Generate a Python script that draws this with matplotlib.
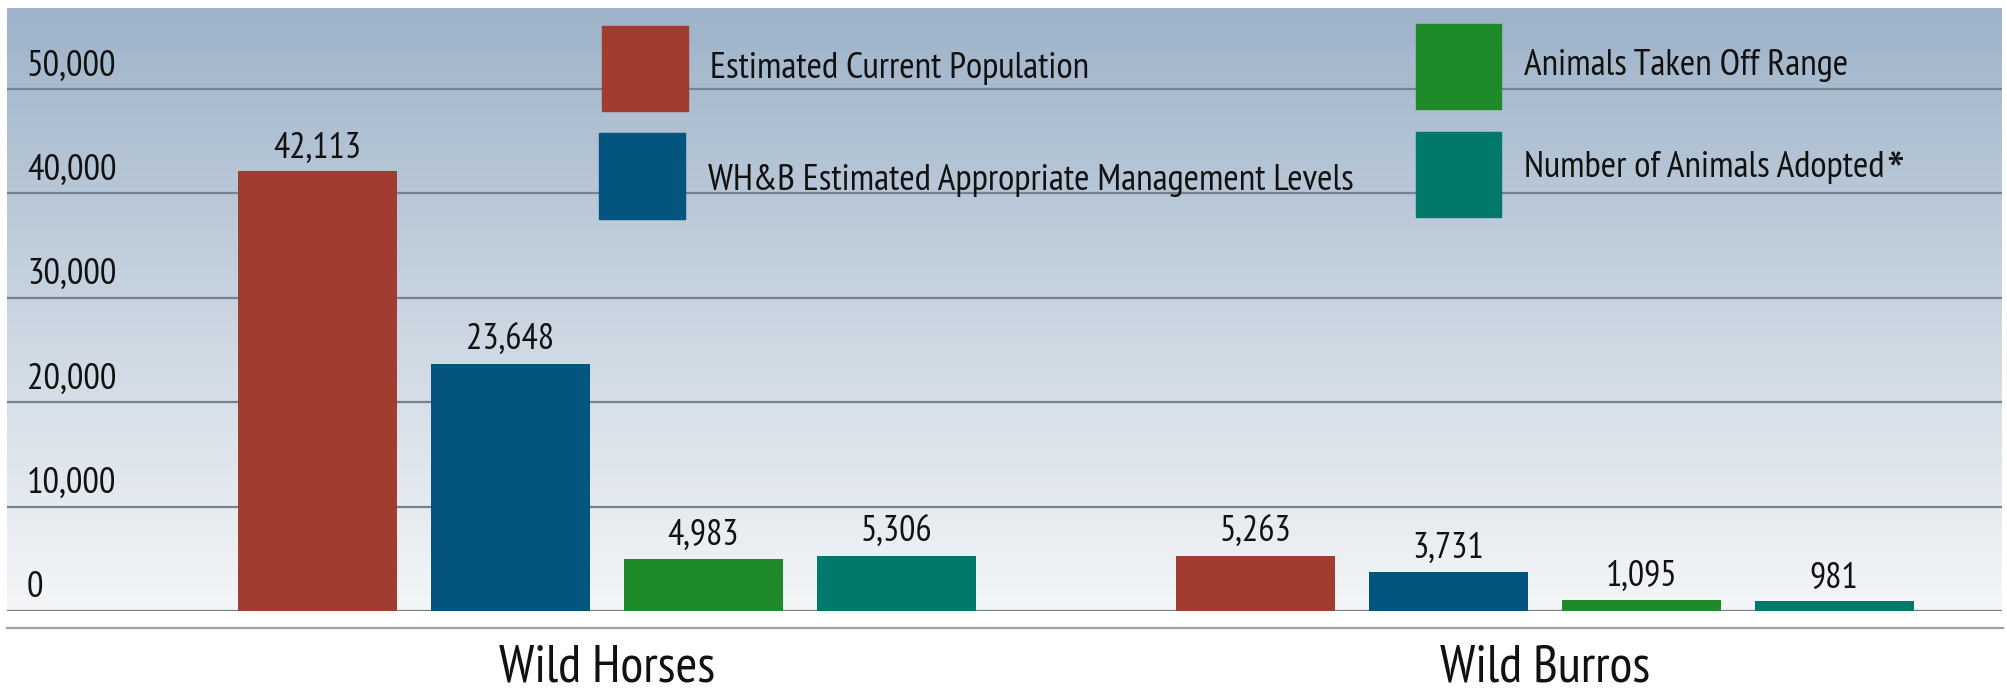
import matplotlib
matplotlib.use("Agg")
import matplotlib.pyplot as plt
import matplotlib.transforms as mtransforms
from matplotlib.patches import Rectangle
from matplotlib import font_manager
import numpy as np

# data
groups = ["Wild Horses", "Wild Burros"]
series = ["Estimated Current Population",
          "WH&B Estimated Appropriate Management Levels",
          "Animals Taken Off Range",
          "Number of Animals Adopted"]
current_pop = [42113, 5263]
aml_levels = [23648, 3731]
taken_off = [4983, 1095]
adopted = [5306, 981]
yticks = [0, 10000, 20000, 30000, 40000, 50000]

colors = ["#a03c30", "#03547f", "#1f8a2a", "#00786a"]

# pick a condensed face if one is installed
names = {f.name for f in font_manager.fontManager.ttflist}
narrow = "DejaVu Sans"
for cand in ["PT Sans Narrow", "Fira Sans Condensed", "Roboto Condensed",
             "Archivo Narrow", "Liberation Sans Narrow", "Encode Sans Condensed"]:
    if cand in names:
        narrow = cand
        break
plt.rcParams["font.family"] = [narrow, "DejaVu Sans"]

W, H = 2007, 691
fig = plt.figure(figsize=(W / 100, H / 100), dpi=100, facecolor="white")


def fx(x):
    return x / W


def fy(y):
    return 1 - y / H


# plot area in pixels: x 7..2002, y 8..611 (zero line)
ax = fig.add_axes([fx(7), fy(611), fx(2002) - fx(7), fy(8) - fy(611)])
ymax = 603 / 522 * 50000
xlim = ((7 - 606.7) / 193, (2002 - 606.7) / 193)
for s in ax.spines.values():
    s.set_visible(False)
ax.set_xticks([])
ax.set_yticks([])

# background gradient, blue-grey at the top fading to near white at zero
grad = np.linspace(0, 1, 256)[:, None]
top = np.array([0x9e, 0xb3, 0xc9]) / 255
bot = np.array([0xf4, 0xf6, 0xf8]) / 255
img = (top * (1 - grad) + bot * grad).reshape(256, 1, 3)
ax.imshow(img, extent=[xlim[0], xlim[1], 0, ymax], aspect="auto", zorder=0,
          origin="upper")
ax.set_xlim(*xlim)
ax.set_ylim(0, ymax)

# gridlines and tick labels
ylab_tr = mtransforms.blended_transform_factory(ax.transAxes, ax.transData)
for v in yticks:
    ax.axhline(v, color="#76838f", lw=1.6, zorder=1)
    ax.text(0.010, v + 1300, f"{v:,}", transform=ylab_tr, fontsize=26.5,
            color="#111111", va="baseline", ha="left")

# second rule under the zero line
fig.add_artist(plt.Line2D([fx(7), fx(2003)], [fy(628), fy(628)],
                          color="#a0a0a0", lw=1.6))

# bars
centers = np.array([0.0, 4.86])
offsets = [-1.5, -0.5, 0.5, 1.5]
width = 0.824
values = [current_pop, aml_levels, taken_off, adopted]
for vals, off, c in zip(values, offsets, colors):
    bars = ax.bar(centers + off, vals, width=width, color=c, zorder=2)
    for b, v in zip(bars, vals):
        ax.annotate(f"{v:,}", (b.get_x() + b.get_width() / 2, v),
                    xytext=(0, 10), textcoords="offset points",
                    ha="center", va="baseline", fontsize=26, color="#111111")

# group labels
cat_tr = mtransforms.blended_transform_factory(ax.transData, fig.transFigure)
for cx, g in zip(centers, groups):
    ax.text(cx, fy(682), g, transform=cat_tr, ha="center", va="baseline",
            fontsize=38, color="#111111", clip_on=False)

# legend drawn by hand
leg = [
    (602, 26, 86, 85, 710, 78, series[0], colors[0]),
    (599, 133, 86, 86, 708, 190, series[1], colors[1]),
    (1416, 24, 85, 85, 1524, 75, series[2], colors[2]),
    (1416, 132, 85, 85, 1524, 177, series[3], colors[3]),
]
for x0, y0, w, h, tx, ty, label, c in leg:
    fig.add_artist(Rectangle((fx(x0), fy(y0 + h)), w / W, h / H,
                             transform=fig.transFigure, color=c))
    t = fig.text(fx(tx), fy(ty), label, fontsize=26.8, va="baseline",
                 ha="left", color="#111111")
fig.text(fx(1886), fy(194), "*", fontsize=44, va="baseline", ha="left",
         color="#111111")

fig.savefig("out.png", dpi=100, facecolor="white")
